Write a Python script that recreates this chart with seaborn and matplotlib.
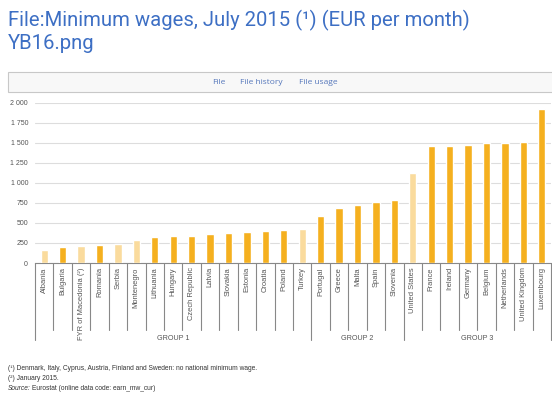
import pandas as pd
import matplotlib.pyplot as plt
import seaborn as sns
from matplotlib.patches import Rectangle

# chart values
countries = ['Albania', 'Bulgaria', 'FYR of Macedonia (²)', 'Romania', 'Serbia', 'Montenegro',
             'Lithuania', 'Hungary', 'Czech Republic', 'Latvia', 'Slovakia', 'Estonia',
             'Croatia', 'Poland', 'Turkey', 'Portugal', 'Greece', 'Malta', 'Spain', 'Slovenia',
             'United States', 'France', 'Ireland', 'Germany', 'Belgium', 'Netherlands',
             'United Kingdom', 'Luxembourg']
wages = [157, 194, 214, 228, 235, 288, 325, 333, 332, 360, 380, 390, 396, 410, 424,
         589, 684, 720, 757, 791, 1118, 1458, 1462, 1473, 1502, 1502, 1507, 1923]
member = ['non', 'eu', 'non', 'eu', 'non', 'non', 'eu', 'eu', 'eu', 'eu', 'eu', 'eu',
          'eu', 'eu', 'non', 'eu', 'eu', 'eu', 'eu', 'eu', 'non', 'eu', 'eu', 'eu', 'eu',
          'eu', 'eu', 'eu']
group_names = ['GROUP 1', 'GROUP 2', 'GROUP 3']
group_sizes = [15, 5, 8]
yticks = [0, 250, 500, 750, 1000, 1250, 1500, 1750, 2000]

data = pd.DataFrame({'country': countries, 'wage': wages, 'member': member})

sns.set_style('white')
plt.rcParams['font.family'] = ['Liberation Sans', 'DejaVu Sans']

fig = plt.figure(figsize=(5.52, 3.96), dpi=100)
ax = fig.add_axes([35 / 552, 1 - 263 / 396, 516 / 552, 160.3 / 396])

sns.barplot(data=data, x='country', y='wage', hue='member',
            palette={'eu': '#F5B01F', 'non': '#FADB9D'}, saturation=1,
            width=0.4, dodge=False, legend=False, ax=ax, zorder=3)

ax.set_xlim(-0.5, len(countries) - 0.5)
ax.set_ylim(0, 2000)
ax.set_yticks(yticks)
ax.set_yticklabels([f'{v:,}'.replace(',', ' ') for v in yticks])
ax.yaxis.grid(True, color='#dddddd', lw=0.8, zorder=0)
ax.set_xlabel('')
ax.set_ylabel('')
for s in ['top', 'right', 'left']:
    ax.spines[s].set_visible(False)
ax.spines['bottom'].set_color('#888888')
ax.spines['bottom'].set_linewidth(0.8)
ax.tick_params(axis='y', length=0, pad=5, labelsize=5, labelcolor='#555555')
ax.tick_params(axis='x', length=0, pad=3, labelsize=5.4, labelcolor='#555555', rotation=90)

# category box below the axis
trans = ax.get_xaxis_transform()
bounds = [0]
for n in group_sizes:
    bounds.append(bounds[-1] + n)
for i in range(len(countries) + 1):
    low = -0.48 if i in bounds else -0.418
    ax.plot([i - 0.5, i - 0.5], [0, low], transform=trans, color='#888888',
            lw=0.8, clip_on=False)
for name, a, b in zip(group_names, bounds[:-1], bounds[1:]):
    ax.text((a + b) / 2 - 0.5, -0.468, name, transform=trans, ha='center', va='center',
            fontsize=5.2, color='#555555')

# page title
fig.text(8 / 552, 1 - 26 / 396, 'File:Minimum wages, July 2015 (¹) (EUR per month)',
         fontsize=14.6, color='#3d6fc4', family='Roboto', va='baseline')
fig.text(8 / 552, 1 - 49 / 396, 'YB16.png', fontsize=14.6, color='#3d6fc4',
         family='Roboto', va='baseline')

# tab bar
fig.patches.append(Rectangle((8 / 552, 1 - 92 / 396), 560 / 552, 20 / 396,
                             transform=fig.transFigure, facecolor='#f8f8f8',
                             edgecolor='#c8c8c8', lw=0.8))
for label, xc in [('File', 219), ('File history', 261), ('File usage', 318)]:
    fig.text(xc / 552, 1 - 82 / 396, label, fontsize=6, color='#5577bb',
             family='Open Sans', ha='center', va='center')

# footnotes
fig.text(8 / 552, 1 - 369 / 396,
         '(¹) Denmark, Italy, Cyprus, Austria, Finland and Sweden: no national minimum wage.',
         fontsize=4.8, color='#333333', va='center')
fig.text(8 / 552, 1 - 378.5 / 396, '(²) January 2015.', fontsize=4.8, color='#333333',
         va='center')
fig.text(8 / 552, 1 - 388 / 396, 'Source:', fontsize=4.8, color='#333333', va='center',
         style='italic')
fig.text(32 / 552, 1 - 388 / 396, 'Eurostat (online data code: earn_mw_cur)',
         fontsize=4.8, color='#333333', va='center')

fig.savefig('out.png', dpi=100)
